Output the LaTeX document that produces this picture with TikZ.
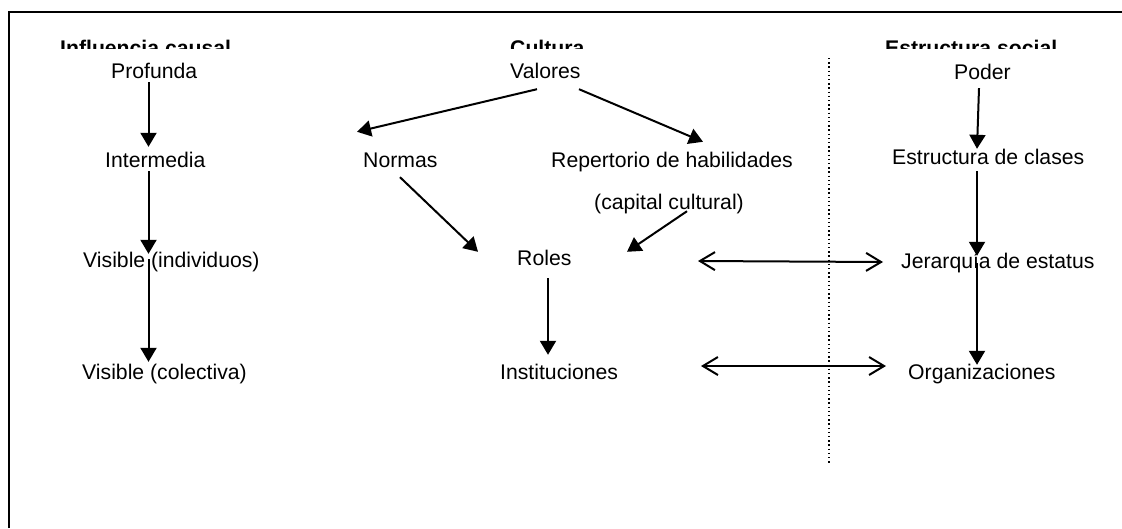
\documentclass[tikz,border=0pt]{standalone}
\usepackage{fontspec}
\setmainfont{Liberation Sans}
\usetikzlibrary{arrows.meta,calc}
\tikzset{
  lbl/.style={anchor=base west, inner xsep=0pt, inner ysep=4pt,
    text height=16pt, text depth=0pt, font=\fontsize{21.2}{25}\selectfont},
  head/.style={anchor=base west, inner sep=0pt,
    font=\fontsize{21.2}{25}\selectfont\bfseries},
  arr/.style={line width=2pt, -{Triangle[length=14pt,width=16pt]}},
  link/.style={line width=2pt,
    {Straight Barb[length=15pt,width=18pt]}-{Straight Barb[length=15pt,width=18pt]}},
  frame/.style={line width=2.2pt},
  divider/.style={line width=1.3pt, dash pattern=on 1.3pt off 2.9pt}
}
\begin{document}
\begin{tikzpicture}[x=1pt,y=-1pt]
\useasboundingbox (0,0) rectangle (1122,528);

% open frame: only the top and left edges fall inside the page
\draw[frame] (9,528) -- (9,12) -- (1122,12);

% column headings, cut off at the bottom
\begin{scope}
  \clip (0,0) rectangle (1122,48);
  \node[head] (hcause)  at (60,55)  {Influencia causal};
  \node[head] (hcult)   at (510,55) {Cultura};
  \node[head] (hsocial) at (885,55) {Estructura social};
\end{scope}

% causal depth
\node[lbl] (profunda) at (111,78)  {Profunda};
\node[lbl] (intermedia) at (105,167) {Intermedia};
\node[lbl] (visind) at (83,267)  {Visible (individuos)};
\node[lbl] (viscol) at (82,379)  {Visible (colectiva)};

% culture
\node[lbl] (valores) at (510,78)  {Valores};
\node[lbl] (normas)  at (363,167) {Normas};
\node[lbl] (repert)  at (551,167) {Repertorio de habilidades};
\node[lbl] (capital) at (594,209.5) {(capital cultural)};
\node[lbl] (roles)   at (517,265) {Roles};
\node[lbl] (inst)    at (500,379) {Instituciones};

% social structure
\node[lbl] (poder)  at (954,79)  {Poder};
\node[lbl] (clases) at (892,164) {Estructura de clases};
\node[lbl] (jer)    at (901,268) {Jerarquía de estatus};
\node[lbl] (org)    at (908,379) {Organizaciones};

% dotted divider between culture and social structure
\coordinate (divtop) at (829,58);
\coordinate (divbot) at (829,464);
\draw[divider] (divtop) -- (divbot);

% left column
\coordinate (colA) at (148.5,0);
\draw[arr] (profunda.south -| colA) -- (intermedia.north -| colA);
\draw[arr, shorten >=-7pt] (intermedia.south -| colA) -- (visind.north -| colA);
\draw[arr, shorten >=-3pt] (visind.center -| colA) -- (viscol.north -| colA);

% culture column
\draw[arr] ($(valores.south west)+(27,7)$) -- ($(normas.north west)+(-6,-15)$);
\draw[arr] ($(valores.south west)+(69,7)$) -- ($(repert.north west)+(152,-5)$);
\draw[arr] ($(normas.south west)+(37,6)$) -- ($(roles.north west)+(-39,7)$);
\draw[arr] ($(capital.south west)+(93,-2.5)$) -- ($(roles.north west)+(110,7)$);
\draw[arr] ($(roles.south west)+(31,9)$) -- ($(inst.north west)+(48,-4)$);

% social structure column
\draw[arr] ($(poder.south west)+(25,5)$) -- ($(clases.north west)+(85,5)$);
\draw[arr] ($(clases.south west)+(85,3)$) -- ($(jer.north west)+(76,8)$);
\draw[arr] ($(jer.west)+(76,3)$) -- ($(org.north west)+(69,6)$);

% two-way links
\draw[link] ($(roles.west)+(181,4)$) -- ($(jer.west)+(-18,2)$);
\draw[link] ($(inst.west)+(201,-5)$) -- ($(org.west)+(-22,-5)$);
\end{tikzpicture}
\end{document}
